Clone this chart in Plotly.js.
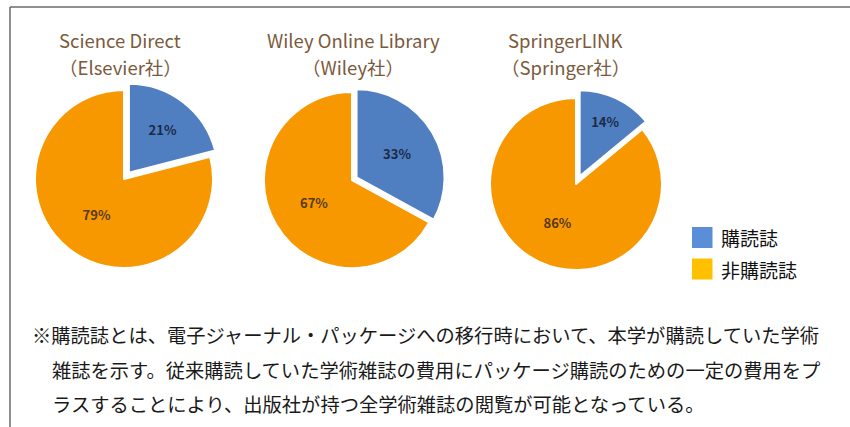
<!DOCTYPE html>
<html>
<head>
<meta charset="utf-8">
<script src="https://cdn.plot.ly/plotly-3.0.1.min.js"></script>
<style>html,body{margin:0;padding:0;background:#fff;}#chart{width:850px;height:427px;}</style>
</head>
<body>
<div id="chart"></div>
<script>
// ---- data ----
const categories = ["購読誌", "非購読誌"];
const platforms = ["Science Direct", "Wiley Online Library", "SpringerLINK"];
const publishers = ["（Elsevier社）", "（Wiley社）", "（Springer社）"];
const scienceDirect = [21, 79];
const wiley = [33, 67];
const springer = [14, 86];
const footnoteLines = [
  "※購読誌とは、電子ジャーナル・パッケージへの移行時において、本学が購読していた学術",
  "雑誌を示す。従来購読していた学術雑誌の費用にパッケージ購読のための一定の費用をプ",
  "ラスすることにより、出版社が持つ全学術雑誌の閲覧が可能となっている。"
];

// ---- layout helpers ----
const W = 850, H = 427;
const px = v => v / W;
const py = v => 1 - v / H;
const pieColors = ["#4f7fc0", "#f79800"];
const legendColors = ["#5a8ed6", "#ffc000"];
const textColors = ["#1c2a48", "#5a3a16"];
const jp = "Noto Sans CJK JP, sans-serif";

// centre x, centre y, radius, pull
const geo = [
  {cx: 124, cy: 179, r: 89, pull: 0.09},
  {cx: 352, cy: 180, r: 88, pull: 0.06},
  {cx: 576, cy: 184, r: 86, pull: 0.10}
];
const seriesList = [scienceDirect, wiley, springer];

const traces = seriesList.map((vals, i) => {
  const g = geo[i];
  const half = g.r * (1 + g.pull);
  return {
    type: "pie",
    labels: categories,
    values: vals,
    sort: false,
    direction: "clockwise",
    rotation: 0,
    pull: [g.pull, 0],
    marker: {colors: pieColors, line: {color: "#ffffff", width: 2}},
    textinfo: "percent",
    textposition: "inside",
    insidetextorientation: "horizontal",
    textfont: {family: jp, size: 13, color: textColors, weight: "bold"},
    hoverinfo: "label+percent",
    showlegend: false,
    domain: {x: [px(g.cx - half), px(g.cx + half)], y: [py(g.cy + half), py(g.cy - half)]}
  };
});

const titleX = [120, 353, 565];
const annotations = [];
platforms.forEach((p, i) => {
  annotations.push({xref: "paper", yref: "paper", x: px(titleX[i]), y: py(40), text: p,
    showarrow: false, xanchor: "center", yanchor: "middle",
    font: {family: jp, size: 18.5, color: "#7b5a3c"}});
  annotations.push({xref: "paper", yref: "paper", x: px(titleX[i]), y: py(67), text: publishers[i],
    showarrow: false, xanchor: "center", yanchor: "middle",
    font: {family: jp, size: 18.5, color: "#7b5a3c"}});
});

// legend (custom, colours as in reference)
const legendY = [237.5, 269];
const shapes = [
  {type: "line", xref: "paper", yref: "paper", x0: px(10), x1: 1, y0: py(7), y1: py(7), line: {color: "#6a6a6a", width: 1.5}},
  {type: "line", xref: "paper", yref: "paper", x0: px(10), x1: px(10), y0: py(7), y1: 0, line: {color: "#6a6a6a", width: 1.5}}
];
categories.forEach((c, i) => {
  shapes.push({type: "rect", xref: "paper", yref: "paper",
    x0: px(692), x1: px(712.5), y0: py(legendY[i] + 10.5), y1: py(legendY[i] - 10.5),
    fillcolor: legendColors[i], line: {width: 0}});
  annotations.push({xref: "paper", yref: "paper", x: px(719), y: py(legendY[i]), text: c,
    showarrow: false, xanchor: "left", yanchor: "middle",
    font: {family: jp, size: 19, color: "#111111"}});
});

const footY = [334.5, 370, 404];
const footX = [30, 50, 50];
footnoteLines.forEach((t, i) => {
  annotations.push({xref: "paper", yref: "paper", x: px(footX[i]), y: py(footY[i]), text: t,
    showarrow: false, xanchor: "left", yanchor: "middle",
    font: {family: jp, size: 19.3, color: "#1a1a1a"}});
});

const layout = {
  width: W, height: H,
  margin: {l: 0, r: 0, t: 0, b: 0},
  paper_bgcolor: "#ffffff",
  plot_bgcolor: "#ffffff",
  showlegend: false,
  shapes: shapes,
  annotations: annotations
};

Plotly.newPlot("chart", traces, layout, {displayModeBar: false, staticPlot: true});
</script>
</body>
</html>
